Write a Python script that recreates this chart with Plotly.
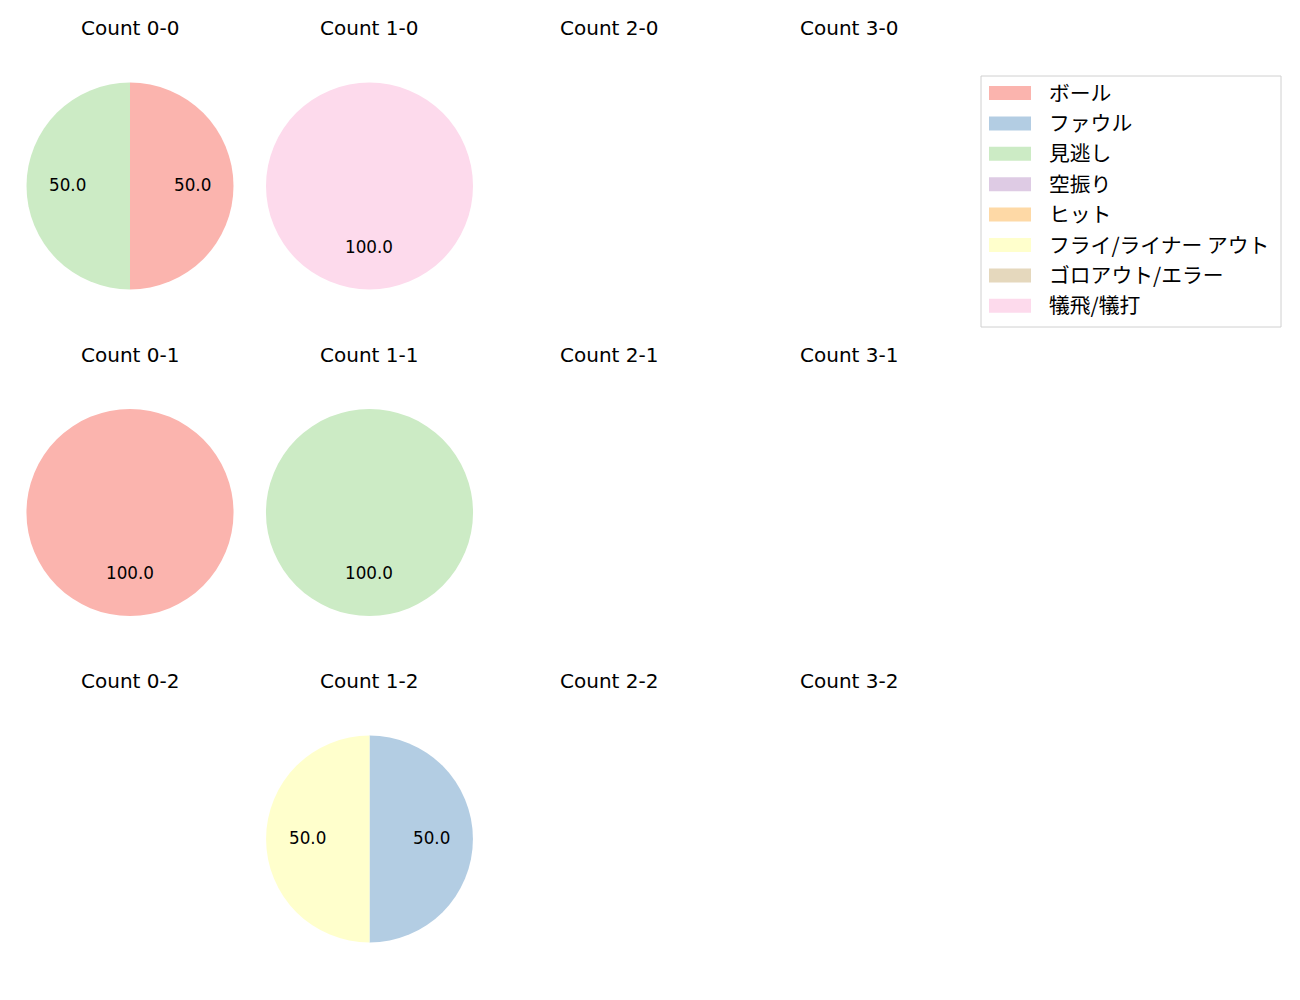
import plotly.graph_objects as go
import math

labels = ["ボール", "ファウル", "見逃し", "空振り", "ヒット", "フライ/ライナー アウト", "ゴロアウト/エラー", "犠飛/犠打"]
colors = ["#fbb4ae", "#b3cde3", "#ccebc5", "#decbe4", "#fed9a6", "#ffffcc", "#e5d8bd", "#fddaec"]

balls = [0, 1, 2, 3]
strikes = [0, 1, 2]
# counts per (balls-strikes) for each label
counts = {
    "0-0": [1, 0, 1, 0, 0, 0, 0, 0],
    "1-0": [0, 0, 0, 0, 0, 0, 0, 1],
    "0-1": [1, 0, 0, 0, 0, 0, 0, 0],
    "1-1": [0, 0, 1, 0, 0, 0, 0, 0],
    "1-2": [0, 1, 0, 0, 0, 1, 0, 0],
}

W, H = 1300, 1000
OFF = 8  # page body margin
col_cx = [130, 369.5, 609, 849]
row_cy = [186, 512.5, 839]
R = 103.5
LATIN = "DejaVu Sans, Noto Sans CJK JP"
CJK = "Noto Sans CJK JP"


def px(x):
    return (x - OFF) / W


def py(y):
    return 1 - (y - OFF) / H


fig = go.Figure()
annotations = []
shapes = []

for ri, s in enumerate(strikes):
    for ci, b in enumerate(balls):
        key = f"{b}-{s}"
        cx, cy = col_cx[ci], row_cy[ri]
        annotations.append(dict(text=f"Count {key}", x=px(cx), y=py(cy - 158),
                                xref="paper", yref="paper", showarrow=False,
                                font=dict(size=20, color="#000000", family=LATIN),
                                xanchor="center", yanchor="middle"))
        if key not in counts:
            continue
        vals = counts[key]
        idx = [i for i, v in enumerate(vals) if v > 0]
        fig.add_trace(go.Pie(
            labels=[labels[i] for i in idx],
            values=[vals[i] for i in idx],
            marker=dict(colors=[colors[i] for i in idx], line=dict(width=0)),
            sort=False, direction="clockwise", rotation=0,
            textinfo="none", hoverinfo="label+percent",
            domain=dict(x=[px(cx - R), px(cx + R)], y=[py(cy + R), py(cy - R)]),
            showlegend=False,
        ))
        total = sum(vals)
        acc = 0
        for i in idx:
            frac = vals[i] / total
            mid = (acc + frac / 2) * 2 * math.pi
            acc += frac
            lx = cx + 0.6 * R * math.sin(mid)
            ly = cy - 0.6 * R * math.cos(mid) - 1.5
            annotations.append(dict(text=f"{frac * 100:.1f}", x=px(lx), y=py(ly),
                                    xref="paper", yref="paper", showarrow=False,
                                    font=dict(size=16.8, color="#000000", family=LATIN),
                                    xanchor="center", yanchor="middle"))

# legend
lx0, ly0, lx1, ly1 = 981, 76, 1281, 327
shapes.append(dict(type="rect", xref="paper", yref="paper",
                   x0=px(lx0), x1=px(lx1), y0=py(ly1), y1=py(ly0),
                   line=dict(color="#d0d0d0", width=1), fillcolor="rgba(255,255,255,0.8)"))
for i, (lab, col) in enumerate(zip(labels, colors)):
    yc = 93 + i * 30.4
    shapes.append(dict(type="rect", xref="paper", yref="paper",
                       x0=px(989), x1=px(1031), y0=py(yc + 7), y1=py(yc - 7),
                       line=dict(width=0), fillcolor=col))
    annotations.append(dict(text=lab, x=px(1047), y=py(yc - 1.5), xref="paper", yref="paper",
                            showarrow=False, xanchor="left", yanchor="middle",
                            font=dict(size=20.8, color="#000000", family=CJK)))

fig.update_layout(
    width=W, height=H,
    margin=dict(l=0, r=0, t=0, b=0),
    paper_bgcolor="white", plot_bgcolor="white",
    annotations=annotations, shapes=shapes,
    showlegend=False,
    font=dict(family=CJK),
)
fig.write_html("out.html")
